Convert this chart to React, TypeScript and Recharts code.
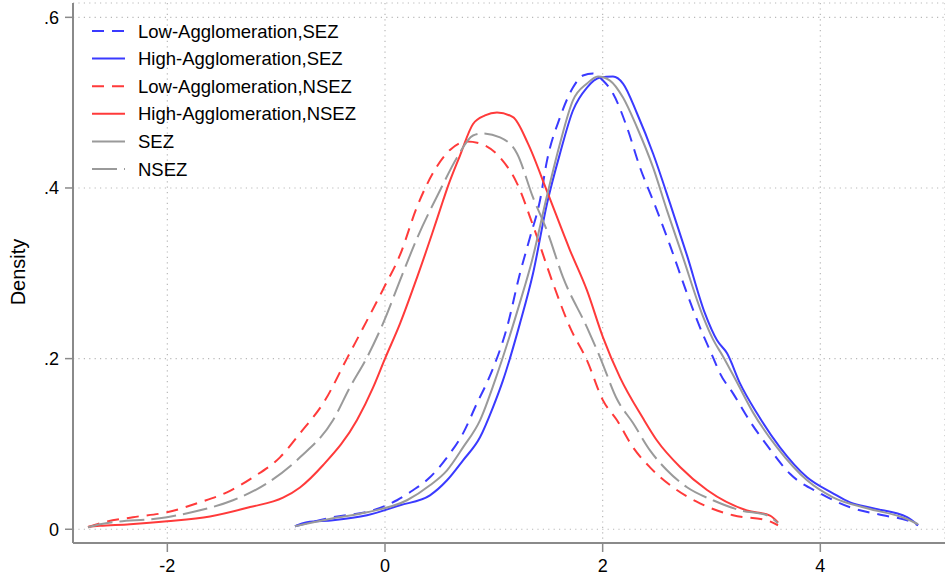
import React from "react";
import { LineChart, Line, XAxis, YAxis, CartesianGrid } from "recharts";

// Kernel density estimates: [x, density]
const lowAggSEZ: number[][] = [
  [-0.827, 0.0035], [-0.478, 0.0141], [-0.11, 0.0222], [0.11, 0.034], [0.257, 0.0457],
  [0.413, 0.0609], [0.57, 0.0843], [0.717, 0.1124], [0.845, 0.1476], [0.946, 0.1745],
  [1.121, 0.2366], [1.24, 0.2998], [1.332, 0.342], [1.424, 0.3854], [1.489, 0.4323],
  [1.608, 0.4827], [1.727, 0.5177], [1.819, 0.5318], [1.911, 0.5341], [2.003, 0.5259],
  [2.095, 0.5107], [2.224, 0.4709], [2.343, 0.4241], [2.481, 0.3796], [2.619, 0.3327],
  [2.775, 0.2764], [2.894, 0.2366], [3.014, 0.2015], [3.078, 0.1827], [3.198, 0.1593],
  [3.354, 0.1265], [3.538, 0.0937], [3.721, 0.065], [3.997, 0.0422], [4.273, 0.0258],
  [4.576, 0.0164], [4.797, 0.0105], [4.898, 0.0047],
];

const highAggSEZ: number[][] = [
  [-0.827, 0.0035], [-0.717, 0.0082], [-0.478, 0.0105], [-0.165, 0.0164], [0.138, 0.0281],
  [0.413, 0.0398], [0.57, 0.0574], [0.717, 0.0808], [0.873, 0.1078], [0.992, 0.1429],
  [1.084, 0.1745], [1.24, 0.2413], [1.36, 0.2998], [1.489, 0.3819], [1.608, 0.4404],
  [1.727, 0.4908], [1.856, 0.5177], [1.976, 0.5294], [2.095, 0.5306], [2.187, 0.5224],
  [2.316, 0.4873], [2.463, 0.4404], [2.619, 0.3819], [2.775, 0.321], [2.94, 0.253],
  [3.051, 0.2214], [3.143, 0.2062], [3.262, 0.171], [3.418, 0.1359], [3.629, 0.096],
  [3.878, 0.0609], [4.116, 0.0422], [4.273, 0.0316], [4.484, 0.0246], [4.797, 0.0141],
  [4.898, 0.0047],
];

const lowAggNSEZ: number[][] = [
  [-2.729, 0.0023], [-2.619, 0.007], [-2.316, 0.0141], [-2.003, 0.0199], [-1.7, 0.0316],
  [-1.452, 0.0433], [-1.213, 0.0609], [-0.965, 0.0843], [-0.781, 0.1124], [-0.551, 0.1511],
  [-0.349, 0.2003], [-0.165, 0.2448], [-0.018, 0.2811], [0.138, 0.3215], [0.294, 0.3778],
  [0.441, 0.4176], [0.597, 0.4446], [0.753, 0.4545], [0.873, 0.4522], [1.057, 0.4358],
  [1.213, 0.4054], [1.36, 0.3561], [1.544, 0.2881], [1.7, 0.2366], [1.856, 0.198],
  [2.003, 0.1511], [2.132, 0.1277], [2.279, 0.096], [2.435, 0.0726], [2.646, 0.0492],
  [2.894, 0.0304], [3.198, 0.0164], [3.51, 0.0105], [3.611, 0.0047],
];

const highAggNSEZ: number[][] = [
  [-2.729, 0.003], [-2.619, 0.004], [-2.343, 0.006], [-2.003, 0.0094], [-1.608, 0.015],
  [-1.24, 0.026], [-0.937, 0.037], [-0.781, 0.049], [-0.57, 0.075], [-0.257, 0.128],
  [-0.11, 0.166], [0.0, 0.2], [0.138, 0.241], [0.294, 0.295], [0.432, 0.346],
  [0.533, 0.385], [0.57, 0.399], [0.689, 0.438], [0.809, 0.475], [0.919, 0.485],
  [1.029, 0.4885], [1.176, 0.483], [1.314, 0.452], [1.489, 0.396], [1.7, 0.327],
  [1.856, 0.28], [2.003, 0.225], [2.159, 0.178], [2.371, 0.13], [2.499, 0.104],
  [2.711, 0.073], [2.959, 0.046], [3.326, 0.022], [3.538, 0.016], [3.611, 0.008],
];

const allSEZ: number[][] = [
  [-0.827, 0.0035], [-0.478, 0.0129], [-0.165, 0.0199], [0.202, 0.034], [0.413, 0.0515],
  [0.57, 0.0691], [0.717, 0.096], [0.873, 0.1277], [1.011, 0.1745], [1.24, 0.2659],
  [1.351, 0.3151], [1.489, 0.3913], [1.608, 0.4522], [1.727, 0.5026], [1.856, 0.5224],
  [1.957, 0.5306], [2.067, 0.5259], [2.187, 0.506], [2.316, 0.4709], [2.463, 0.4241],
  [2.591, 0.3737], [2.729, 0.3221], [2.922, 0.2495], [3.014, 0.2225], [3.106, 0.2026],
  [3.234, 0.1722], [3.381, 0.137], [3.602, 0.096], [3.878, 0.0574], [4.116, 0.0375],
  [4.429, 0.0246], [4.778, 0.0129], [4.898, 0.0059],
];

const allNSEZ: number[][] = [
  [-2.729, 0.0023], [-2.619, 0.0059], [-2.003, 0.0141], [-1.7, 0.0222], [-1.397, 0.034],
  [-1.084, 0.0539], [-0.781, 0.0843], [-0.478, 0.1277], [-0.322, 0.1664], [-0.165, 0.2015],
  [-0.018, 0.2413], [0.138, 0.2916], [0.294, 0.3409], [0.505, 0.397], [0.662, 0.4358],
  [0.809, 0.4615], [0.9, 0.4639], [1.057, 0.4592], [1.213, 0.4405], [1.36, 0.3889],
  [1.489, 0.3497], [1.636, 0.2952], [1.856, 0.2366], [1.976, 0.2015], [2.132, 0.1523],
  [2.279, 0.1245], [2.435, 0.0925], [2.591, 0.0691], [2.775, 0.0492], [3.014, 0.034],
  [3.262, 0.0223], [3.51, 0.0164], [3.611, 0.007],
];

const xTicks = [-2, 0, 2, 4];
const yTicks = [0, 0.2, 0.4, 0.6];
const yLabel = "Density";

const seriesNames = [
  "Low-Agglomeration,SEZ",
  "High-Agglomeration,SEZ",
  "Low-Agglomeration,NSEZ",
  "High-Agglomeration,NSEZ",
  "SEZ",
  "NSEZ",
];

const BLUE = "#3a3aff";
const RED = "#ff3a3a";
const GRAY = "#9a9a9a";
const AXIS = "#8a8a8a";
const FONT = "'Liberation Sans', Arial, sans-serif";

const toPts = (arr: number[][]) => arr.map(([x, y]) => ({ x, y }));

const series = [
  { name: seriesNames[0], data: toPts(lowAggSEZ), color: BLUE, dash: "12 8" },
  { name: seriesNames[1], data: toPts(highAggSEZ), color: BLUE, dash: undefined },
  { name: seriesNames[2], data: toPts(lowAggNSEZ), color: RED, dash: "12 8" },
  { name: seriesNames[3], data: toPts(highAggNSEZ), color: RED, dash: undefined },
  { name: seriesNames[4], data: toPts(allSEZ), color: GRAY, dash: undefined },
  { name: seriesNames[5], data: toPts(allNSEZ), color: GRAY, dash: "25 7" },
];

const fmtY = (v: number) => (v === 0 ? "0" : String(v).replace(/^0/, ""));

export default function App() {
  return (
    <div style={{ position: "absolute", left: 0, top: 0, width: 945, height: 575, background: "#fff", fontFamily: FONT }}>
      <LineChart width={945} height={575} margin={{ top: 3, right: 0, bottom: 0, left: 0 }}>
        <CartesianGrid stroke="#b8b8b8" strokeDasharray="1.2 4.2" strokeWidth={1.2} />
        <XAxis
          dataKey="x"
          type="number"
          domain={[-2.8668, 5.1456]}
          allowDataOverflow
          ticks={xTicks}
          interval={0}
          height={32}
          tickSize={9}
          tickMargin={7}
          axisLine={{ stroke: AXIS, strokeWidth: 2 }}
          tickLine={{ stroke: AXIS, strokeWidth: 1.5 }}
          tick={{ fill: "#000", fontSize: 18, fontFamily: FONT }}
        />
        <YAxis
          type="number"
          domain={[-0.0161, 0.6168]}
          allowDataOverflow
          ticks={yTicks}
          interval={0}
          width={73}
          tickSize={8}
          tickMargin={6}
          tickFormatter={fmtY}
          axisLine={{ stroke: AXIS, strokeWidth: 2 }}
          tickLine={{ stroke: AXIS, strokeWidth: 1.5 }}
          tick={{ fill: "#000", fontSize: 18, fontFamily: FONT }}
          label={{
            content: () => (
              <text
                x={25}
                y={272}
                transform="rotate(-90 25 272)"
                textAnchor="middle"
                fontSize={20}
                fontFamily={FONT}
                fill="#000"
              >
                {yLabel}
              </text>
            ),
          }}
        />
        {series.map((s) => (
          <Line
            key={s.name}
            data={s.data}
            dataKey="y"
            name={s.name}
            type="monotone"
            stroke={s.color}
            strokeWidth={2}
            strokeDasharray={s.dash}
            dot={false}
            activeDot={false}
            isAnimationActive={false}
          />
        ))}
      </LineChart>
      <svg style={{ position: "absolute", left: 0, top: 0 }} width={420} height={200}>
        {series.map((s, i) => {
          const cy = 31 + i * 27.6;
          return (
            <g key={s.name}>
              <line x1={92} x2={125} y1={cy} y2={cy} stroke={s.color} strokeWidth={2} strokeDasharray={s.dash} />
              <text x={138} y={cy + 6.5} fontSize={18.5} fontFamily={FONT} fill="#000">
                {s.name}
              </text>
            </g>
          );
        })}
      </svg>
    </div>
  );
}
